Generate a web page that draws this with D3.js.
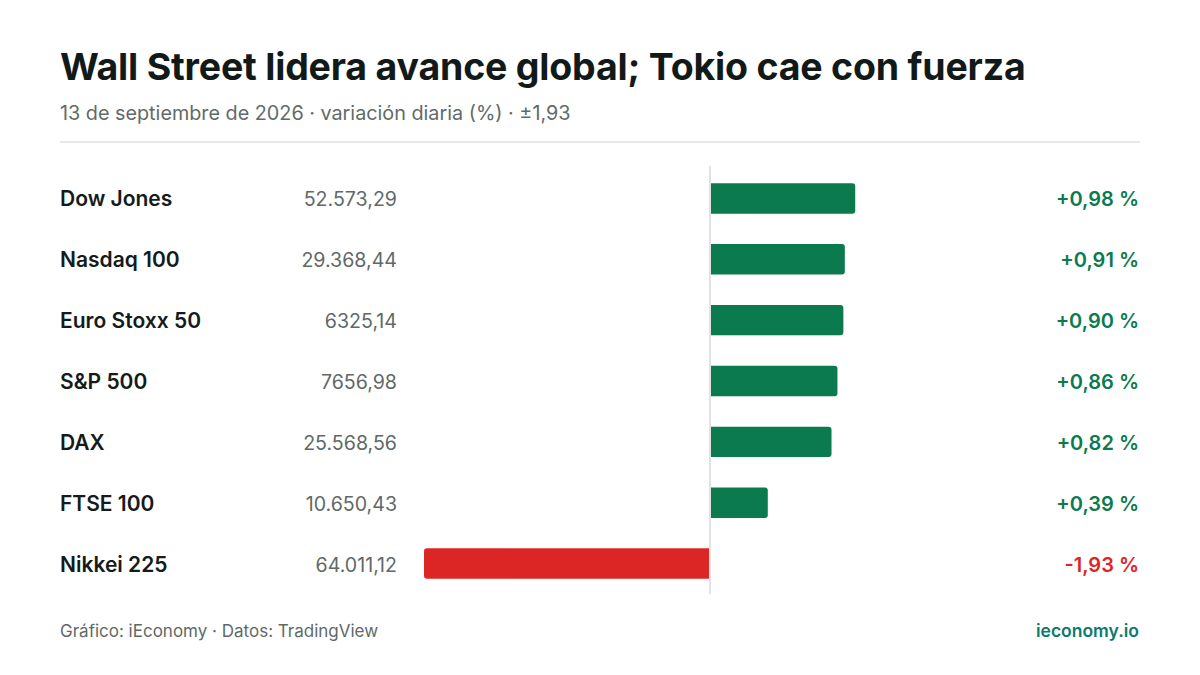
<!DOCTYPE html>
<html>
<head>
<meta charset="utf-8">
<script src="https://cdn.jsdelivr.net/npm/d3@7"></script>
<style>
  body { margin: 0; background: #fff; }
  svg { display: block; font-family: Inter, "Noto Sans", sans-serif; }
</style>
</head>
<body>
<svg id="chart" width="1200" height="675"></svg>
<script>
// data
var indices = ["Dow Jones", "Nasdaq 100", "Euro Stoxx 50", "S&P 500", "DAX", "FTSE 100", "Nikkei 225"];
var prices = ["52.573,29", "29.368,44", "6325,14", "7656,98", "25.568,56", "10.650,43", "64.011,12"];
var changes = [0.98, 0.91, 0.90, 0.86, 0.82, 0.39, -1.93];

var GREEN = "#0b7a4f", RED = "#dc2626";

var svg = d3.select("#chart");

// header
svg.append("text").text("Wall Street lidera avance global; Tokio cae con fuerza")
  .attr("x", 60).attr("y", 80)
  .style("font-size", "37.5px").style("font-weight", 700).style("fill", "#111a18")
  .style("letter-spacing", "-0.2px");
svg.append("text").text("13 de septiembre de 2026 · variación diaria (%) · ±1,93")
  .attr("x", 60).attr("y", 120)
  .style("font-size", "19.8px").style("fill", "#5f6b69");
svg.append("line").attr("x1", 60).attr("x2", 1140).attr("y1", 142).attr("y2", 142)
  .style("stroke", "#dde3e2").style("stroke-width", 1.5);

// scales
var maxAbs = d3.max(changes, function(d) { return Math.abs(d); });
var x = d3.scaleLinear().domain([-maxAbs, maxAbs]).range([424, 996]);
var y = d3.scaleBand().domain(indices).range([168, 594]).paddingInner(0.5).paddingOuter(0.25);

var rows = svg.append("g").selectAll("g").data(indices).enter().append("g");

// bar with rounded outer end only
function barPath(v, i) {
  var x0 = x(0), x1 = x(v), top = y(indices[i]), h = y.bandwidth(), r = 3;
  if (v >= 0) {
    x0 = x0 + 1;
    return "M" + x0 + "," + top + "H" + (x1 - r) + "Q" + x1 + "," + top + " " + x1 + "," + (top + r) +
      "V" + (top + h - r) + "Q" + x1 + "," + (top + h) + " " + (x1 - r) + "," + (top + h) + "H" + x0 + "Z";
  }
  return "M" + x0 + "," + top + "H" + (x1 + r) + "Q" + x1 + "," + top + " " + x1 + "," + (top + r) +
    "V" + (top + h - r) + "Q" + x1 + "," + (top + h) + " " + (x1 + r) + "," + (top + h) + "H" + x0 + "Z";
}

svg.append("g").selectAll("path").data(changes).enter().append("path")
  .attr("d", barPath)
  .style("fill", function(d) { return d >= 0 ? GREEN : RED; });

// zero line
svg.append("line").attr("x1", x(0)).attr("x2", x(0)).attr("y1", 166).attr("y2", 594)
  .style("stroke", "#dfe3e3").style("stroke-width", 2);

var mid = function(d) { return y(d) + y.bandwidth() / 2 + 8; };

rows.append("text").text(function(d) { return d; })
  .attr("x", 60).attr("y", mid)
  .style("font-size", "21px").style("font-weight", 600).style("fill", "#151b1a");

rows.append("text").text(function(d, i) { return prices[i]; })
  .attr("x", 397).attr("y", mid).attr("text-anchor", "end")
  .style("font-size", "19.6px").style("fill", "#5f6967");

rows.append("text").text(function(d, i) {
    var v = changes[i];
    return (v >= 0 ? "+" : "-") + Math.abs(v).toFixed(2).replace(".", ",") + " %";
  })
  .attr("x", 1139).attr("y", mid).attr("text-anchor", "end")
  .style("font-size", "20px").style("font-weight", 600)
  .style("fill", function(d, i) { return changes[i] >= 0 ? GREEN : RED; });

// footer
svg.append("text").text("Gráfico: iEconomy · Datos: TradingView")
  .attr("x", 60).attr("y", 637)
  .style("font-size", "17px").style("fill", "#5f6967");
svg.append("text").text("ieconomy.io")
  .attr("x", 1139).attr("y", 637).attr("text-anchor", "end")
  .style("font-size", "17.5px").style("font-weight", 600).style("fill", "#0b7a6e");
</script>
</body>
</html>
